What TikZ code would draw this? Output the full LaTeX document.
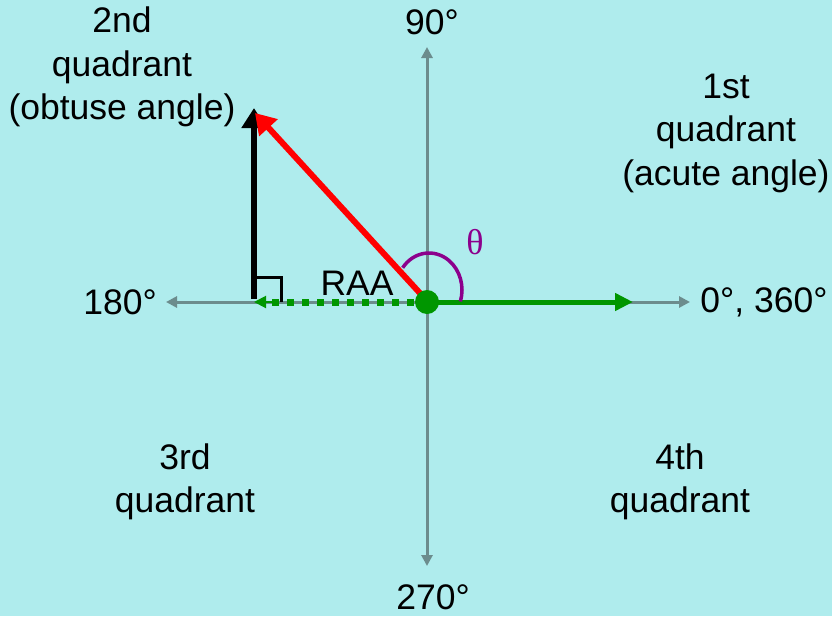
\documentclass[tikz,border=0pt]{standalone}
\usepackage{fontspec}
\setmainfont{Liberation Sans}
\newfontfamily\thetafont{Liberation Serif}
\usetikzlibrary{arrows.meta}
\definecolor{bg}{RGB}{175,236,237}
\definecolor{axisc}{RGB}{108,140,141}
\definecolor{grn}{RGB}{0,150,0}
\definecolor{purp}{RGB}{140,0,140}
\begin{document}
\begin{tikzpicture}[x=1pt,y=-1pt,
  lbl/.style={font=\fontsize{35.5}{43.5}\selectfont, align=center, inner sep=0pt},
  axisline/.style={draw=axisc, line width=3pt, -{Triangle[length=11pt,width=11pt]}},
  greenarrow/.style={draw=grn, line width=5pt, -{Triangle[length=18pt,width=17pt]}},
  blackarrow/.style={draw=black, line width=6pt, -{Triangle[length=20pt,width=24pt]}},
  redarrow/.style={draw=red, line width=6pt, -{Triangle[length=20pt,width=24pt]}}]
\fill[bg] (0,0) rectangle (832,616);
\useasboundingbox (0,0) rectangle (832,616);
% key points
\coordinate (O) at (427,302);
\coordinate (xl) at (166,302);
\coordinate (xr) at (690,302);
\coordinate (yt) at (427,47);
\coordinate (yb) at (427,566);
\coordinate (foot) at (254,302);
\coordinate (top) at (254,108);
\coordinate (redtip) at (255,113);
\coordinate (greentip) at (633,302);
\coordinate (dashtip) at (254,302);
\coordinate (arcc) at (429,290);
% axes
\draw[axisline] (O) -- (xr);
\draw[axisline] (O) -- (xl);
\draw[axisline] (O) -- (yt);
\draw[axisline] (O) -- (yb);
% dashed green projection
\draw[draw=grn, line width=7pt, dash pattern=on 7pt off 8pt] (414,302) -- (272,302);
\draw[draw=grn, line width=2pt, -{Triangle[length=12pt,width=12pt]}] (272,302) -- (dashtip);
% black vertical
\draw[blackarrow] ([yshift=3pt]foot) -- (top);
% right angle box
\draw[line width=3pt] (foot) ++(0,-25) -- ++(27,0) -- ++(0,25);
% red line
\draw[redarrow] ([shift={(2,1)}]O) -- (redtip);
% green solid
\draw[greenarrow] (O) -- (greentip);
% origin dot
\fill[grn] (O) circle (12pt);
% angle arc
\draw[purp, line width=3.5pt] (arcc) ++(143:33pt and 37pt) arc[start angle=143, end angle=-18, x radius=33pt, y radius=37pt];
% labels
\node[lbl, text=purp, font=\thetafont\fontsize{36}{40}\selectfont] (theta) at (475,242) {θ};
\node[lbl] (raa) at (357,283) {RAA};
\node[lbl] (q2) at (122,67) {2nd\\quadrant\\(obtuse angle)};
\node[lbl] (q1) at (726,133) {1st\\quadrant\\(acute angle)};
\node[lbl] (q3) at (185,482) {3rd\\quadrant};
\node[lbl] (q4) at (680,482) {4th\\quadrant};
\node[lbl] (n90) at (432,22) {90°};
\node[lbl] (n270) at (433,597) {270°};
\node[lbl] (n180) at (120,302) {180°};
\node[lbl] (n0) at (764,302) {0°, 360°};
\end{tikzpicture}
\end{document}
